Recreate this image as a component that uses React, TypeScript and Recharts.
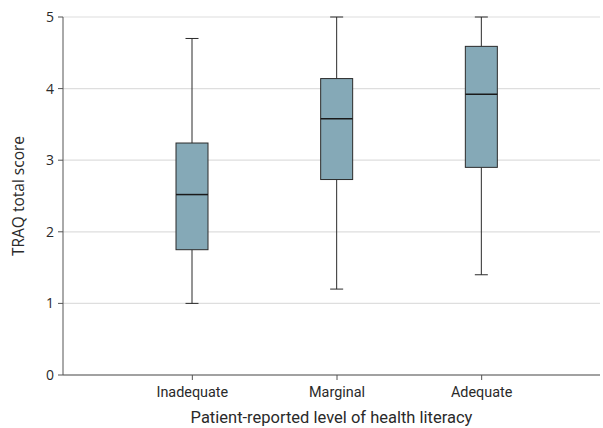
import { ComposedChart, Bar, XAxis, YAxis, CartesianGrid } from "recharts";

// health literacy groups and TRAQ box plot stats
const categories = ["Inadequate", "Marginal", "Adequate"];
const mins = [1.0, 1.2, 1.4];
const q1s = [1.75, 2.73, 2.9];
const medians = [2.52, 3.58, 3.92];
const q3s = [3.24, 4.14, 4.59];
const maxes = [4.7, 5.0, 5.0];
const yTicks = [0, 1, 2, 3, 4, 5];

const data = categories.map((name, i) => ({
  name,
  min: mins[i],
  q1: q1s[i],
  median: medians[i],
  q3: q3s[i],
  max: maxes[i],
  range: [mins[i], maxes[i]],
}));

const FONT = "'Open Sans', sans-serif";
const XFONT = "Roboto, sans-serif";
const TEXT = "#2a2a2a";
const BOX_FILL = "#85a9b7";
const LINE = "#2b2b2b";

// shape gets the min..max bar; inner stats placed on the same linear scale
const BoxShape = (props: any) => {
  const { x, y, width, height, payload } = props;
  const { min, q1, median, q3, max } = payload;
  const toPx = (v: number) => y + (height * (max - v)) / (max - min);
  const cx = x + width / 2;
  const cap = 13;
  return (
    <g>
      <line x1={cx} x2={cx} y1={toPx(max)} y2={toPx(q3)} stroke={LINE} strokeWidth={1} />
      <line x1={cx} x2={cx} y1={toPx(q1)} y2={toPx(min)} stroke={LINE} strokeWidth={1} />
      <line x1={cx - cap / 2} x2={cx + cap / 2} y1={toPx(max)} y2={toPx(max)} stroke={LINE} strokeWidth={1} />
      <line x1={cx - cap / 2} x2={cx + cap / 2} y1={toPx(min)} y2={toPx(min)} stroke={LINE} strokeWidth={1} />
      <rect
        x={x}
        y={toPx(q3)}
        width={width}
        height={toPx(q1) - toPx(q3)}
        fill={BOX_FILL}
        stroke={LINE}
        strokeWidth={1}
      />
      <line x1={x} x2={x + width} y1={toPx(median)} y2={toPx(median)} stroke="#1a1a1a" strokeWidth={1.5} />
    </g>
  );
};

export default function App() {
  return (
    <div style={{ position: "absolute", left: 0, top: 0, background: "#fff" }}>
      <ComposedChart
        width={603}
        height={428}
        data={data}
        margin={{ top: 17, right: 3, bottom: 0, left: 0 }}
      >
        <CartesianGrid vertical={false} stroke="#dedede" strokeWidth={1.2} />
        <XAxis
          dataKey="name"
          padding={{ left: 57, right: 46 }}
          height={53}
          stroke="#555"
          tickSize={5}
          tickMargin={7}
          tick={{ fontSize: 14.4, fill: TEXT, fontFamily: XFONT }}
          label={{
            value: "Patient-reported level of health literacy",
            position: "insideBottom",
            offset: 5,
            style: { fontSize: 16.5, fill: TEXT, fontFamily: XFONT },
          }}
        />
        <YAxis
          domain={[0, 5]}
          ticks={yTicks}
          width={63}
          stroke="#555"
          tickSize={5}
          tickMargin={4}
          tick={{ fontSize: 14, fill: TEXT, fontFamily: FONT }}
          label={{
            value: "TRAQ total score",
            angle: -90,
            position: "insideLeft",
            offset: 18,
            style: { textAnchor: "middle", fontSize: 15.5, fill: TEXT, fontFamily: FONT },
          }}
        />
        <Bar dataKey="range" barSize={32} shape={<BoxShape />} isAnimationActive={false} />
      </ComposedChart>
    </div>
  );
}
